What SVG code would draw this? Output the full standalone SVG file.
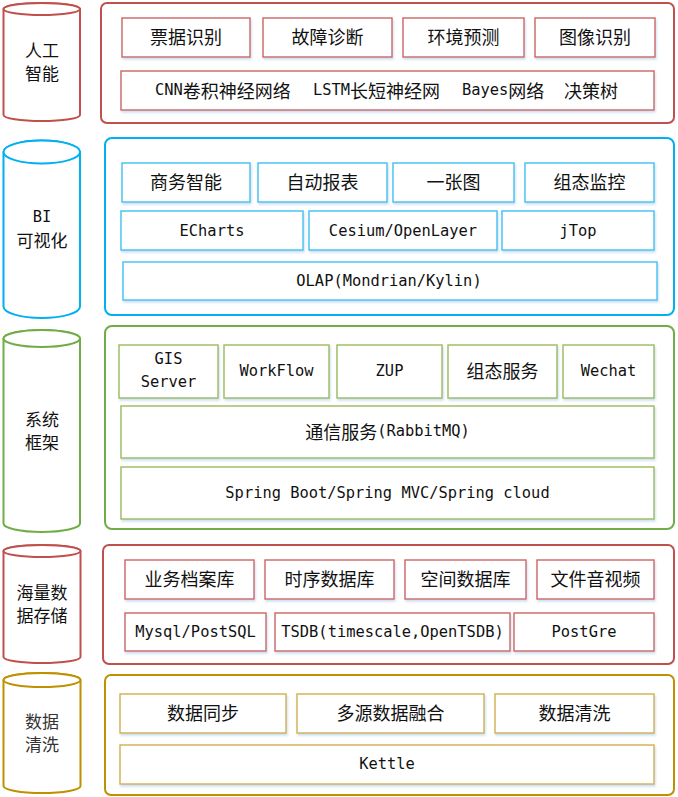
<svg xmlns="http://www.w3.org/2000/svg" width="678" height="797" viewBox="0 0 678 797">
<style>
  .cn { font-family: "Noto Sans CJK SC", "Noto Sans", sans-serif; font-size: 18px; fill: #111; }
  .lab { font-family: "Noto Sans CJK SC", "Noto Sans", sans-serif; font-size: 17px; fill: #111; }
  .en { font-family: "DejaVu Sans Mono", "Liberation Mono", monospace; font-size: 15.4px; fill: #111; }
  .t { text-anchor: middle; dominant-baseline: central; }
  .s { dominant-baseline: central; }
  .cyl { fill: #fff; stroke-width: 2; }
  .outer { fill: #fff; stroke-width: 2; }
  .box { fill: #fff; stroke-width: 1.4; filter: url(#sh); }
  .red { stroke: #C0504D; }
  .redb { stroke: #CC6461; }
  .blue { stroke: #00B0F0; }
  .blueb { stroke: #3FC0F2; }
  .green { stroke: #70AD47; }
  .greenb { stroke: #9BBB59; }
  .gold { stroke: #BF9000; }
  .goldb { stroke: #D2B04C; }
</style>
<defs>
  <filter id="sh" x="-10%" y="-20%" width="120%" height="150%">
    <feDropShadow dx="1" dy="2" stdDeviation="1.3" flood-color="#9DBFE0" flood-opacity="0.5"/>
  </filter>
</defs>
<rect width="678" height="797" fill="#fff"/>

<!-- Layer 1: 人工智能 -->
<g id="cyl-ai">
  <path class="cyl red" d="M3.5,9 A38.25,6 0 0 1 80,9 L80,115 A38.25,6 0 0 1 3.5,115 Z"/>
  <ellipse class="cyl red" cx="41.75" cy="9" rx="38.25" ry="6"/>
  <text class="lab t" x="42" y="49">人工<tspan x="42" dy="23">智能</tspan></text>
</g>
<g id="layer-ai">
  <rect class="outer red" x="101" y="3" width="573" height="120" rx="6"/>
  <g id="n-piaoju"><rect class="box redb" x="122" y="18" width="128" height="39"/><text class="cn t" x="186" y="36">票据识别</text></g>
  <g id="n-guzhang"><rect class="box redb" x="263" y="18" width="129" height="39"/><text class="cn t" x="327.5" y="36">故障诊断</text></g>
  <g id="n-huanjing"><rect class="box redb" x="403" y="18" width="121" height="39"/><text class="cn t" x="463.5" y="36">环境预测</text></g>
  <g id="n-tuxiang"><rect class="box redb" x="535" y="18" width="120" height="39"/><text class="cn t" x="595" y="36">图像识别</text></g>
  <g id="n-algos"><rect class="box redb" x="121" y="71" width="533" height="39"/>
    <text class="s" y="89.5"><tspan class="en" x="155">CNN</tspan><tspan class="cn">卷积神经网络</tspan></text>
    <text class="s" y="89.5"><tspan class="en" x="313">LSTM</tspan><tspan class="cn">长短神经网</tspan></text>
    <text class="s" y="89.5"><tspan class="en" x="462">Bayes</tspan><tspan class="cn">网络</tspan></text>
    <text class="cn s" x="564" y="89.5">决策树</text>
  </g>
</g>

<!-- Layer 2: BI 可视化 -->
<g id="cyl-bi">
  <path class="cyl blue" d="M3.5,152 A38.25,11.5 0 0 1 80,152 L80,306.5 A38.25,11.5 0 0 1 3.5,306.5 Z"/>
  <ellipse class="cyl blue" cx="41.75" cy="152" rx="38.25" ry="11.5"/>
  <text class="t" x="42" y="217"><tspan class="en">BI</tspan><tspan class="lab" x="42" dy="22">可视化</tspan></text>
</g>
<g id="layer-bi">
  <rect class="outer blue" x="105" y="138" width="569" height="177" rx="7"/>
  <g id="n-shangwu"><rect class="box blueb" x="122" y="163" width="128" height="39"/><text class="cn t" x="186" y="181">商务智能</text></g>
  <g id="n-baobiao"><rect class="box blueb" x="258" y="163" width="129" height="39"/><text class="cn t" x="322.5" y="181">自动报表</text></g>
  <g id="n-yizhangtu"><rect class="box blueb" x="393" y="163" width="121" height="39"/><text class="cn t" x="453.5" y="181">一张图</text></g>
  <g id="n-zutai"><rect class="box blueb" x="525" y="163" width="129" height="39"/><text class="cn t" x="589.5" y="181">组态监控</text></g>
  <g id="n-echarts"><rect class="box blueb" x="121" y="211" width="182" height="39"/><text class="en t" x="212" y="230.5">ECharts</text></g>
  <g id="n-cesium"><rect class="box blueb" x="309" y="211" width="188" height="39"/><text class="en t" x="403" y="230.5">Cesium/OpenLayer</text></g>
  <g id="n-jtop"><rect class="box blueb" x="502" y="211" width="152" height="39"/><text class="en t" x="578" y="230.5">jTop</text></g>
  <g id="n-olap"><rect class="box blueb" x="123" y="262" width="534" height="38"/><text class="en t" x="389" y="280.5">OLAP(Mondrian/Kylin)</text></g>
</g>

<!-- Layer 3: 系统框架 -->
<g id="cyl-fw">
  <path class="cyl green" d="M3.5,338.5 A38.25,8.5 0 0 1 80,338.5 L80,523.5 A38.25,8.5 0 0 1 3.5,523.5 Z"/>
  <ellipse class="cyl green" cx="41.75" cy="338.5" rx="38.25" ry="8.5"/>
  <text class="lab t" x="42" y="418">系统<tspan x="42" dy="23">框架</tspan></text>
</g>
<g id="layer-fw">
  <rect class="outer green" x="105" y="326" width="569" height="203" rx="7"/>
  <g id="n-gis"><rect class="box greenb" x="119" y="345" width="99" height="53"/><text class="en t" x="168.5" y="359">GIS<tspan x="168.5" dy="23">Server</tspan></text></g>
  <g id="n-workflow"><rect class="box greenb" x="224" y="345" width="105" height="53"/><text class="en t" x="276.5" y="371">WorkFlow</text></g>
  <g id="n-zup"><rect class="box greenb" x="337" y="345" width="105" height="53"/><text class="en t" x="389.5" y="371">ZUP</text></g>
  <g id="n-zutaifw"><rect class="box greenb" x="448" y="345" width="109" height="53"/><text class="cn t" x="502.5" y="370">组态服务</text></g>
  <g id="n-wechat"><rect class="box greenb" x="563" y="345" width="91" height="53"/><text class="en t" x="608.5" y="371">Wechat</text></g>
  <g id="n-mq"><rect class="box greenb" x="121" y="406" width="533" height="52"/><text class="t" x="387.5" y="431"><tspan class="cn">通信服务</tspan><tspan class="en">(RabbitMQ)</tspan></text></g>
  <g id="n-spring"><rect class="box greenb" x="121" y="467" width="533" height="52"/><text class="en t" x="387.5" y="492.5">Spring Boot/Spring MVC/Spring cloud</text></g>
</g>

<!-- Layer 4: 海量数据存储 -->
<g id="cyl-store">
  <path class="cyl red" d="M3.5,551 A38.5,6 0 0 1 80.5,551 L80.5,657 A38.5,6 0 0 1 3.5,657 Z"/>
  <ellipse class="cyl red" cx="42" cy="551" rx="38.5" ry="6"/>
  <text class="lab t" x="42" y="591">海量数<tspan x="42" dy="23">据存储</tspan></text>
</g>
<g id="layer-store">
  <rect class="outer red" x="103" y="545" width="571" height="119" rx="6"/>
  <g id="n-yewu"><rect class="box redb" x="125" y="560" width="129" height="39"/><text class="cn t" x="189.5" y="578">业务档案库</text></g>
  <g id="n-shixu"><rect class="box redb" x="265" y="560" width="129" height="39"/><text class="cn t" x="329.5" y="578">时序数据库</text></g>
  <g id="n-kongjian"><rect class="box redb" x="405" y="560" width="121" height="39"/><text class="cn t" x="465.5" y="578">空间数据库</text></g>
  <g id="n-wenjian"><rect class="box redb" x="537" y="560" width="117" height="39"/><text class="cn t" x="595.5" y="578">文件音视频</text></g>
  <g id="n-mysql"><rect class="box redb" x="125" y="613" width="141" height="38"/><text class="en t" x="195.5" y="631.5">Mysql/PostSQL</text></g>
  <g id="n-tsdb"><rect class="box redb" x="275" y="613" width="235" height="38"/><text class="en t" x="392.5" y="631.5">TSDB(timescale,OpenTSDB)</text></g>
  <g id="n-postgre"><rect class="box redb" x="514" y="613" width="140" height="38"/><text class="en t" x="584" y="631.5">PostGre</text></g>
</g>

<!-- Layer 5: 数据清洗 -->
<g id="cyl-clean">
  <path class="cyl gold" d="M3.5,680 A38.5,7 0 0 1 80.5,680 L80.5,786 A38.5,7 0 0 1 3.5,786 Z"/>
  <ellipse class="cyl gold" cx="42" cy="680" rx="38.5" ry="7"/>
  <text class="lab t" x="42" y="720" style="fill:#333">数据<tspan x="42" dy="23">清洗</tspan></text>
</g>
<g id="layer-clean">
  <rect class="outer gold" x="105" y="675" width="569" height="120" rx="6"/>
  <g id="n-tongbu"><rect class="box goldb" x="120" y="694" width="166" height="39"/><text class="cn t" x="203" y="712">数据同步</text></g>
  <g id="n-ronghe"><rect class="box goldb" x="297" y="694" width="187" height="39"/><text class="cn t" x="390.5" y="712">多源数据融合</text></g>
  <g id="n-qingxi"><rect class="box goldb" x="495" y="694" width="159" height="39"/><text class="cn t" x="574.5" y="712">数据清洗</text></g>
  <g id="n-kettle"><rect class="box goldb" x="120" y="745" width="534" height="39"/><text class="en t" x="387" y="764">Kettle</text></g>
</g>

<g id="connectors"></g>
</svg>
